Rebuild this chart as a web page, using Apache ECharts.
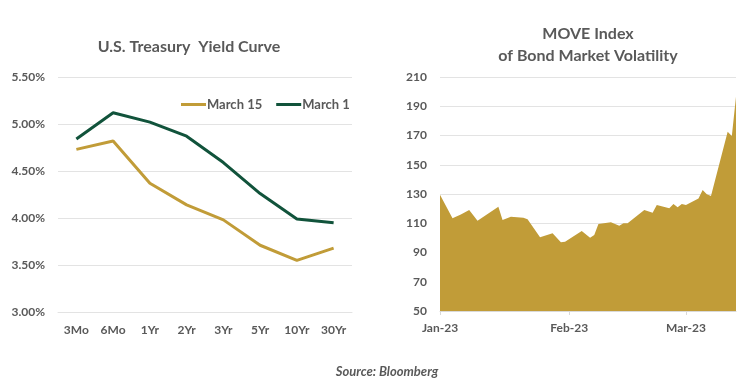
<!DOCTYPE html>
<html>
<head>
<meta charset="utf-8">
<script src="https://cdn.jsdelivr.net/npm/echarts@6/dist/echarts.min.js"></script>
<style>html,body{margin:0;padding:0;background:#fff;}#c{width:751px;height:388px;}</style>
</head>
<body>
<div id="c"></div>
<script>
// ---- Data ----
const tenors = ['3Mo', '6Mo', '1Yr', '2Yr', '3Yr', '5Yr', '10Yr', '30Yr'];
const march15 = [4.73, 4.82, 4.37, 4.14, 3.98, 3.71, 3.55, 3.68];
const march1 = [4.84, 5.12, 5.02, 4.87, 4.59, 4.26, 3.99, 3.95];

const moveDates = ['2023-01-01','2023-01-04','2023-01-06','2023-01-08','2023-01-10','2023-01-15','2023-01-16','2023-01-18',
  '2023-01-21','2023-01-22','2023-01-25','2023-01-28','2023-01-30','2023-01-31','2023-02-04','2023-02-06','2023-02-07',
  '2023-02-08','2023-02-11','2023-02-13','2023-02-14','2023-02-15','2023-02-19','2023-02-21','2023-02-22','2023-02-25',
  '2023-02-26','2023-02-27','2023-02-28','2023-03-01','2023-03-04','2023-03-05','2023-03-06','2023-03-07','2023-03-11',
  '2023-03-12','2023-03-13'];
const moveValues = [129.5, 113.4, 116, 119, 111.7, 121.3, 112.2, 114.5,
  113.8, 112.7, 100.4, 103.1, 97, 97.4, 104.7, 100.1, 102,
  109.5, 110.6, 108.3, 110, 110, 119, 117.2, 122.5, 120.2,
  123.2, 120.9, 123.2, 122.5, 127, 132.7, 129.8, 128.6, 172.6,
  169.7, 196.5];
const monthTicks = ['2023-01-01', '2023-02-01', '2023-03-01'];
const monthLabels = ['Jan-23', 'Feb-23', 'Mar-23'];
const axisStart = '2023-01-01';
const axisEnd = '2023-03-13';

const GOLD = '#C19C38';
const GREEN = '#11533B';
const GREY = '#595959';
const FONT = 'Lato';

const DAY = 86400000;
const dayNum = s => Math.round((new Date(s + 'T00:00:00Z').getTime() - new Date(axisStart + 'T00:00:00Z').getTime()) / DAY);
const tickDays = monthTicks.map(dayNum);

const chart = echarts.init(document.getElementById('c'));
chart.setOption({
  animation: false,
  textStyle: { fontFamily: FONT },
  title: [
    { text: 'U.S. Treasury  Yield Curve', left: 184, top: 34, textAlign: 'center',
      textStyle: { fontFamily: FONT, fontSize: 16, fontWeight: 'bold', color: GREY } },
    { text: 'MOVE Index\nof Bond Market Volatility', left: 583, top: 18, textAlign: 'center',
      textStyle: { fontFamily: FONT, fontSize: 16, fontWeight: 'bold', color: GREY, lineHeight: 22 } },
    { text: 'Source: Bloomberg', left: 382, top: 360, textAlign: 'center',
      textStyle: { fontFamily: FONT, fontSize: 13, fontWeight: 'bold', fontStyle: 'italic', color: GREY } }
  ],
  legend: {
    left: 176, top: 93, itemWidth: 25, itemHeight: 3, itemGap: 14, icon: 'rect',
    data: ['March 15', 'March 1'],
    textStyle: { fontFamily: FONT, fontSize: 13, fontWeight: 'bold', color: GREY, padding: [0, 0, 0, -4] }
  },
  grid: [
    { left: 58, right: 399, top: 77, bottom: 76 },
    { left: 440, right: 15, top: 77, bottom: 77 }
  ],
  xAxis: [
    { type: 'category', gridIndex: 0, data: tenors, boundaryGap: true,
      axisLine: { show: true, lineStyle: { color: '#E3E3E3' } }, axisTick: { show: false },
      axisLabel: { margin: 12, color: GREY, fontSize: 12, fontWeight: 'bold', fontFamily: FONT } },
    { type: 'value', gridIndex: 1, min: 0, max: dayNum(axisEnd),
      axisLine: { show: true, lineStyle: { color: '#D9D9D9' } },
      axisTick: { show: true, length: 4, lineStyle: { color: '#D9D9D9' }, customValues: tickDays },
      splitLine: { show: false },
      axisLabel: { margin: 11, color: GREY, fontSize: 12, fontWeight: 'bold', fontFamily: FONT,
        customValues: tickDays,
        formatter: v => monthLabels[tickDays.indexOf(v)] || '' } }
  ],
  yAxis: [
    { type: 'value', gridIndex: 0, min: 3, max: 5.5, interval: 0.5,
      axisLine: { show: false }, axisTick: { show: false },
      splitLine: { lineStyle: { color: '#E3E3E3' } },
      axisLabel: { margin: 13, color: GREY, fontSize: 12, fontWeight: 'bold', fontFamily: FONT,
        formatter: v => v.toFixed(2) + '%' } },
    { type: 'value', gridIndex: 1, min: 50, max: 210, interval: 20,
      axisLine: { show: false }, axisTick: { show: false },
      splitLine: { lineStyle: { color: '#E3E3E3' } },
      axisLabel: { margin: 13, color: GREY, fontSize: 12, fontWeight: 'bold', fontFamily: FONT } }
  ],
  series: [
    { name: 'March 15', type: 'line', xAxisIndex: 0, yAxisIndex: 0, data: march15,
      showSymbol: false, symbol: 'none', lineStyle: { color: GOLD, width: 3 }, itemStyle: { color: GOLD } },
    { name: 'March 1', type: 'line', xAxisIndex: 0, yAxisIndex: 0, data: march1,
      showSymbol: false, symbol: 'none', lineStyle: { color: GREEN, width: 3 }, itemStyle: { color: GREEN } },
    { name: 'MOVE', type: 'line', xAxisIndex: 1, yAxisIndex: 1,
      data: moveDates.map((d, i) => [dayNum(d), moveValues[i]]),
      showSymbol: false, symbol: 'none', lineStyle: { width: 0 }, itemStyle: { color: GOLD },
      areaStyle: { color: GOLD, opacity: 1, origin: 'start' } }
  ]
});
</script>
</body>
</html>
